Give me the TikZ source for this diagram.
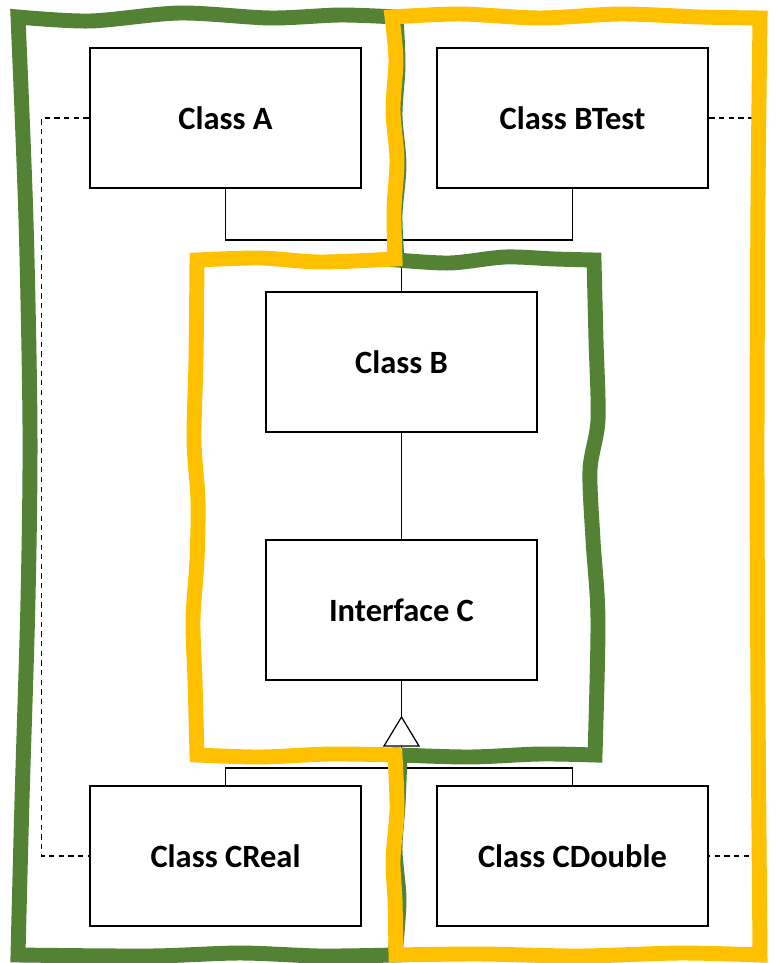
\documentclass[tikz,border=0pt]{standalone}
\usepackage{fontspec}
\setmainfont{Carlito}
\usepackage{tikz}
\definecolor{GroupGreen}{RGB}{84,130,53}
\definecolor{GroupYellow}{RGB}{255,192,0}

\begin{document}
\begin{tikzpicture}[x=0.02cm, y=-0.02cm]
			\useasboundingbox (0,0) rectangle (775,963);
			\tikzstyle{every node}=[draw, shape=rectangle, line width=1.6pt, fill=white, minimum width=5.42cm, minimum height=2.8cm, align=center, font=\bfseries\fontsize{18.5}{22}\selectfont];
			\tikzstyle{link}=[line width=0.7pt];
			\tikzstyle{dep}=[line width=0.7pt, dash pattern=on 3pt off 2.5pt];
			\tikzstyle{greenline}=[draw=GroupGreen, line width=8.5pt];
			\tikzstyle{yellowline}=[draw=GroupYellow, line width=8.5pt];
			\node (classA) at (225.5, 118) {Class A};
			\node (classBTest) at (572.5, 118) {Class BTest};
			\node (classB) at (401.5, 362) {Class B};
			\node (interfaceC) at (401.5, 610) {Interface C};
			\node (classCReal) at (225.5, 856) {Class CReal};
			\node (classCDouble) at (572.5, 856) {Class CDouble};
			\coordinate (topJoin) at (401.5, 240);
			\coordinate (tipC) at (401.5, 717);
			\coordinate (baseC) at (401.5, 746);
			\coordinate (botJoin) at (401.5, 768);
			\draw [link] (classA.south) |- (topJoin) -| (classBTest.south);
			\draw [link] (topJoin) -- (classB.north);
			\draw [link] (classB.south) -- (interfaceC.north);
			\draw [link] (interfaceC.south) -- (tipC);
			\draw [link, fill=white] (tipC) -- ++(-17.5, 29) -- ++(35, 0) -- cycle;
			\draw [link] (baseC) -- (botJoin);
			\draw [link] (classCReal.north) |- (botJoin) -| (classCDouble.north);
			\draw [dep] (classA.west) -- ++(-47, 0) |- (classCReal.west);
			\draw [dep] (classBTest.east) -- ++(47, 0) |- (classCDouble.east);
			% group borders
			\draw [greenline] (18,17)
				-- plot[smooth] coordinates {(18,17) (90,21) (180,13) (270,18) (340,15) (396,17)}
				-- plot[smooth] coordinates {(396,17) (398,65) (395,115) (399,165) (395,215) (397,260)}
				-- plot[smooth] coordinates {(397,260) (450,263) (505,257) (555,259) (594,260)}
				-- plot[smooth] coordinates {(594,260) (596,340) (598,420) (590,470) (593,540) (598,620) (595,755)}
				-- plot[smooth] coordinates {(595,755) (540,754) (470,757) (400,755)}
				-- plot[smooth] coordinates {(400,755) (398,805) (395,850) (399,900) (395,955)}
				-- plot[smooth] coordinates {(395,955) (320,956) (240,953) (150,956) (18,955)}
				-- plot[smooth] coordinates {(18,955) (22,800) (28,600) (30,430) (26,220) (18,17)}
				-- cycle;
			\draw [yellowline] (392,17)
				-- plot[smooth] coordinates {(392,17) (460,14) (540,18) (620,14) (700,17) (760,18)}
				-- plot[smooth] coordinates {(760,18) (758,200) (757,450) (758,700) (760,955)}
				-- plot[smooth] coordinates {(760,955) (680,953) (580,956) (480,954) (396,955)}
				-- plot[smooth] coordinates {(396,955) (395,900) (393,860) (397,810) (395,755)}
				-- plot[smooth] coordinates {(395,755) (330,754) (260,757) (197,755)}
				-- plot[smooth] coordinates {(197,755) (195,680) (193,620) (197,560) (198,500) (194,440) (196,360) (197,260)}
				-- plot[smooth] coordinates {(197,260) (260,258) (320,262) (395,259)}
				-- plot[smooth] coordinates {(395,259) (394,210) (397,160) (393,110) (396,60) (392,17)}
				-- cycle;
\end{tikzpicture}
\end{document}
